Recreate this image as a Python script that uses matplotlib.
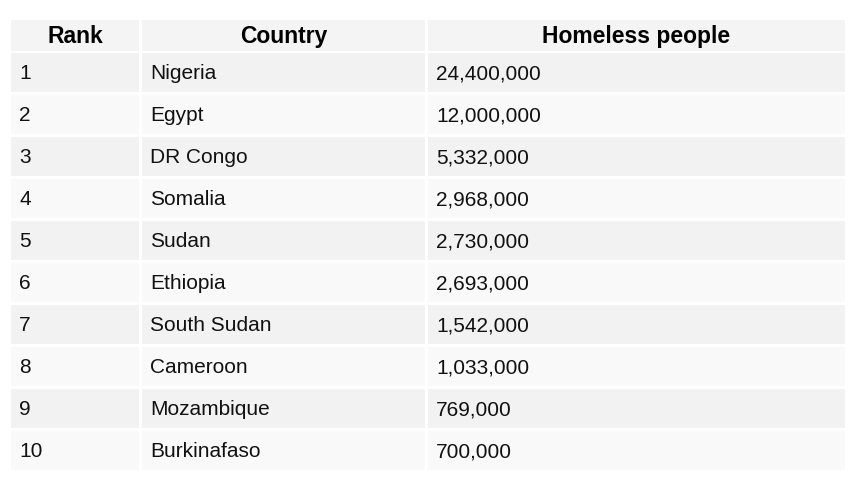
import matplotlib
matplotlib.use("Agg")
import matplotlib.pyplot as plt
from matplotlib.patches import Rectangle

plt.rcParams["font.family"] = "Liberation Sans"

headers = ["Rank", "Country", "Homeless people"]
ranks = ["1", "2", "3", "4", "5", "6", "7", "8", "9", "10"]
countries = ["Nigeria", "Egypt", "DR Congo", "Somalia", "Sudan", "Ethiopia",
             "South Sudan", "Cameroon", "Mozambique", "Burkinafaso"]
homeless = ["24,400,000", "12,000,000", "5,332,000", "2,968,000", "2,730,000",
            "2,693,000", "1,542,000", "1,033,000", "769,000", "700,000"]

W, H = 858, 495
fig = plt.figure(figsize=(W / 100, H / 100), dpi=100)
ax = fig.add_axes([0, 0, 1, 1])
ax.set_xlim(0, W)
ax.set_ylim(H, 0)
ax.axis("off")

cols = [(11, 139), (142, 425), (428, 845)]
header_y = (20, 51)
row_top0, row_h, row_step = 53, 39, 42

for (x0, x1), h in zip(cols, headers):
    ax.add_patch(Rectangle((x0, header_y[0]), x1 - x0, header_y[1] - header_y[0],
                           facecolor="#f4f4f4", edgecolor="none"))
    ax.text((x0 + x1) / 2, sum(header_y) / 2 + 1, h, ha="center", va="center",
            fontsize=16.5, fontweight="bold", color="#000000")

for i, row in enumerate(zip(ranks, countries, homeless)):
    y0 = row_top0 + i * row_step
    fc = "#f2f2f2" if i % 2 == 0 else "#f9f9f9"
    for (x0, x1), val in zip(cols, row):
        ax.add_patch(Rectangle((x0, y0), x1 - x0, row_h, facecolor=fc, edgecolor="none"))
        ax.text(x0 + 8, y0 + row_h / 2 + 1, val, ha="left", va="center",
                fontsize=15, color="#111111")

fig.savefig("out.png", dpi=100)
